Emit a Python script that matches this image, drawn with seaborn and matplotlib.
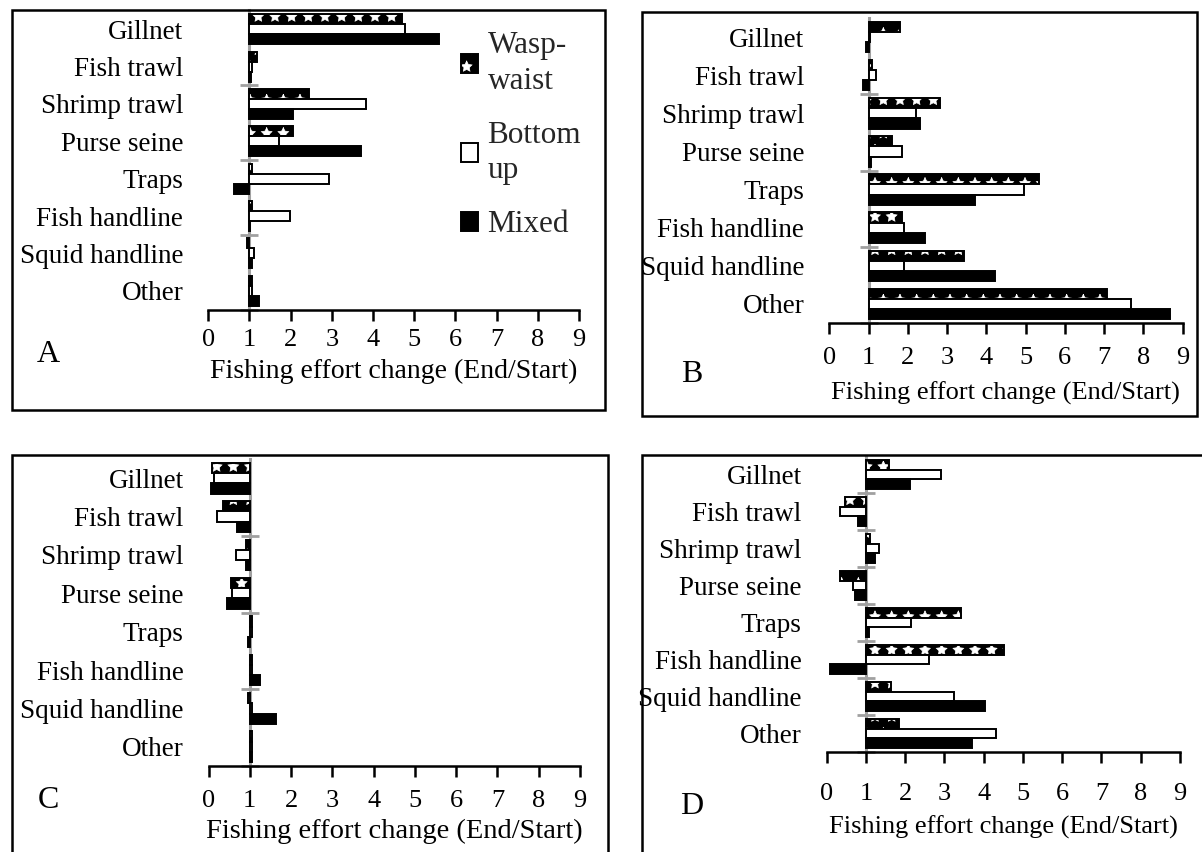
import numpy as np
import pandas as pd
import matplotlib
matplotlib.use("Agg")
import matplotlib.pyplot as plt
import matplotlib.patches as mpatches
import matplotlib.colors as mcolors
import seaborn as sns

# ---------------- data ----------------
gears = ["Gillnet", "Fish trawl", "Shrimp trawl", "Purse seine", "Traps",
         "Fish handline", "Squid handline", "Other"]
scenarios = ["Wasp-waist", "Bottom up", "Mixed"]
legend_labels = ["Wasp-\nwaist", "Bottom\nup", "Mixed"]

a_wasp = [4.71, 1.18, 2.44, 2.06, 1.05, 1.05, 0.95, 1.06]
a_bottom = [4.77, 1.05, 3.82, 1.72, 2.94, 1.98, 1.12, 1.05]
a_mixed = [5.61, 1.04, 2.06, 3.71, 0.63, 1.02, 1.06, 1.22]

b_wasp = [1.79, 1.10, 2.81, 1.60, 5.35, 1.85, 3.44, 7.08]
b_bottom = [1.03, 1.18, 2.21, 1.85, 4.97, 1.91, 1.91, 7.70]
b_mixed = [0.94, 0.87, 2.31, 1.05, 3.72, 2.43, 4.21, 8.67]

c_wasp = [0.08, 0.34, 0.90, 0.55, 1.06, 1.06, 0.96, 1.06]
c_bottom = [0.14, 0.21, 0.66, 0.56, 1.05, 1.05, 1.05, 1.06]
c_mixed = [0.06, 0.70, 0.90, 0.45, 0.96, 1.25, 1.64, 1.06]

d_wasp = [1.58, 0.47, 1.11, 0.35, 3.43, 4.51, 1.63, 1.83]
d_bottom = [2.92, 0.35, 1.32, 0.67, 2.16, 2.61, 3.24, 4.32]
d_mixed = [2.11, 0.79, 1.22, 0.71, 1.07, 0.09, 4.02, 3.69]

x_ticks = list(range(10))
xlabel_text = "Fishing effort change (End/Start)"
baseline = 1.0

# ---------------- style ----------------
sns.set_theme(style="white")
plt.rcParams["font.family"] = ["Liberation Serif", "DejaVu Serif"]
plt.rcParams["hatch.linewidth"] = 0.5

W, H = 1202, 852
fig = plt.figure(figsize=(W / 100, H / 100), dpi=100)


def fx(px):
    return px / W


def fy(py):
    return 1 - py / H


GRAY = "#a0a0a0"
palette = {"Wasp-waist": "black", "Bottom up": "white", "Mixed": "black"}
WHITE = mcolors.to_rgba("white")
WW_HATCH = "*"

panels = [
    dict(letter="A", data=(a_wasp, a_bottom, a_mixed), box=(12, 10, 605, 410),
         ax=(208.3, 10.5, 579.0, 309.5), every=2, lpos=(48, 354), xfs=20,
         tpad=6, xpad=6),
    dict(letter="B", data=(b_wasp, b_bottom, b_mixed), box=(642, 12, 1197, 416),
         ax=(829.3, 18.0, 1182.5, 323.0), every=2, lpos=(692, 374), xfs=19,
         tpad=9, xpad=9),
    dict(letter="C", data=(c_wasp, c_bottom, c_mixed), box=(12, 455, 608, 880),
         ax=(208.5, 459.0, 580.0, 766.0), every=2, lpos=(48, 800), xfs=20.5,
         tpad=9, xpad=5),
    dict(letter="D", data=(d_wasp, d_bottom, d_mixed), box=(642, 455, 1230, 880),
         ax=(826.7, 456.0, 1180.0, 752.0), every=1, lpos=(692, 806), xfs=19,
         tpad=14, xpad=8),
]

for p in panels:
    wasp, bottom, mixed = p["data"]
    df = pd.DataFrame({
        "gear": gears * 3,
        "scenario": np.repeat(scenarios, len(gears)),
        "value": np.concatenate([wasp, bottom, mixed]),
    })
    df["delta"] = df["value"] - baseline

    x0, y0, x1, y1 = p["ax"]
    ax = fig.add_axes([fx(x0), fy(y1), fx(x1) - fx(x0), fy(y0) - fy(y1)])
    sns.barplot(data=df, x="delta", y="gear", hue="scenario", order=gears,
                hue_order=scenarios, palette=palette, orient="h", errorbar=None,
                width=0.8, saturation=1, left=baseline, edgecolor="black",
                linewidth=1.4, legend=False, ax=ax)
    for patch in ax.containers[0]:
        patch.set_hatch(WW_HATCH)
        patch._hatch_color = WHITE

    ax.set_xlim(0, 9)
    ax.set_xticks(x_ticks)
    for s in ["top", "right", "left"]:
        ax.spines[s].set_visible(False)
    ax.spines["bottom"].set_color("black")
    ax.spines["bottom"].set_linewidth(1.8)
    ax.tick_params(axis="x", bottom=True, direction="out", length=8, width=1.8,
                   color="black", pad=p["tpad"], labelsize=19, labelcolor="black")
    ax.tick_params(axis="y", left=False, length=0, pad=18, labelsize=19.5,
                   labelcolor="black")
    ax.set_ylabel("")
    ax.set_xlabel(xlabel_text, fontsize=p["xfs"], labelpad=p["xpad"], color="black")

    # gray value axis crossing at 1
    sec = ax.secondary_yaxis(baseline, transform=ax.transData)
    sec.set_yticks(np.arange(-0.5 + p["every"], len(gears), p["every"]))
    sec.tick_params(axis="y", direction="inout", length=13, width=2, color=GRAY,
                    labelleft=False, labelright=False)
    for s in sec.spines.values():
        s.set_color(GRAY)
        s.set_linewidth(2.2)

    bx0, by0, bx1, by1 = p["box"]
    fig.add_artist(mpatches.Rectangle((fx(bx0), fy(by1)), fx(bx1) - fx(bx0),
                                      fy(by0) - fy(by1), transform=fig.transFigure,
                                      fill=False, edgecolor="black", linewidth=1.8))
    fig.text(fx(p["lpos"][0]), fy(p["lpos"][1]), p["letter"], ha="center",
             va="center", fontsize=23, color="black")

handles = [mpatches.Patch(facecolor=palette[s], edgecolor="black", linewidth=1.4,
                          hatch=WW_HATCH if s == "Wasp-waist" else None)
           for s in scenarios]
leg = fig.legend(handles, legend_labels, loc="upper left",
                 bbox_to_anchor=(fx(461), fy(31)), frameon=False, fontsize=22.5,
                 handlelength=0.55, handleheight=0.55, handletextpad=0.3,
                 labelspacing=0.8, borderpad=0, borderaxespad=0)
leg.legend_handles[0]._hatch_color = WHITE
for t in leg.get_texts():
    t.set_linespacing(1.3)

fig.savefig("out.png", dpi=100)
